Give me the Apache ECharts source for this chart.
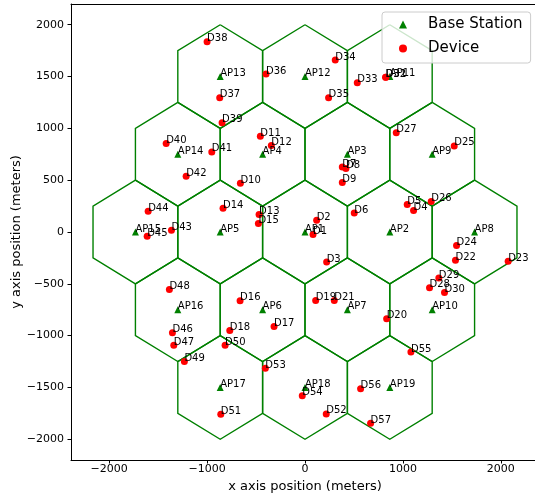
<!DOCTYPE html>
<html>
<head>
<meta charset="utf-8">
<script src="https://cdn.jsdelivr.net/npm/echarts@6/dist/echarts.min.js"></script>
<style>
html,body{margin:0;padding:0;background:#fff;}
#chart{width:535px;height:495px;}
</style>
</head>
<body>
<div id="chart"></div>
<script>
// Base stations (hexagonal grid centres)
const apNames = ['AP1','AP2','AP3','AP4','AP5','AP6','AP7','AP8','AP9','AP10','AP11','AP12','AP13','AP14','AP15','AP16','AP17','AP18','AP19'];
const apX = [0, 866, 433, -433, -866, -433, 433, 1732, 1299, 1299, 866, 0, -866, -1299, -1732, -1299, -866, 0, 866];
const apY = [0, 0, 750, 750, 0, -750, -750, 0, 750, -750, 1500, 1500, 1500, 750, 0, -750, -1500, -1500, -1500];
const cellRadius = 500;

// Devices
const devNames = ['D1','D2','D3','D4','D5','D6','D7','D8','D9','D10','D11','D12','D13','D14','D15','D16','D17','D18','D19','D20',
  'D21','D22','D23','D24','D25','D26','D27','D28','D29','D30','D31','D32','D33','D34','D35','D36','D37','D38','D39','D40',
  'D41','D42','D43','D44','D45','D46','D47','D48','D49','D50','D51','D52','D53','D54','D55','D56','D57'];
const devX = [82, 119, 221, 1109, 1044, 503, 381, 418, 381, -660, -456, -344, -469, -837, -476, -663, -316, -768, 109, 834,
  299, 1537, 2075, 1548, 1524, 1289, 932, 1272, 1367, 1425, 826, 823, 534, 309, 241, -398, -871, -1000, -847, -1418,
  -952, -1214, -1364, -1602, -1612, -1354, -1340, -1385, -1232, -816, -860, 217, -405, -28, 1082, 568, 670];
const devY = [-25, 113, -290, 207, 265, 184, 628, 612, 477, 470, 925, 835, 168, 229, 81, -663, -911, -950, -660, -837,
  -660, -273, -283, -131, 831, 294, 957, -537, -444, -583, 1493, 1492, 1440, 1659, 1295, 1524, 1295, 1836, 1053, 854,
  773, 538, 16, 200, -42, -972, -1092, -554, -1249, -1092, -1758, -1755, -1314, -1581, -1159, -1513, -1845];

// Axis ticks
const xTicks = [-2000, -1000, 0, 1000, 2000];
const yTicks = [-2000, -1500, -1000, -500, 0, 500, 1000, 1500, 2000];
const xRange = [-2390, 2390];
const yRange = [-2200, 2200];

const FONT = 'DejaVu Sans';
const minus = v => String(v).replace('-', '\u2212');

const hexData = apX.map((cx, i) => {
  const cy = apY[i];
  const coords = [];
  for (let k = 0; k <= 6; k++) {
    const a = Math.PI / 2 + k * Math.PI / 3;
    coords.push([cx + cellRadius * Math.cos(a), cy + cellRadius * Math.sin(a)]);
  }
  return { coords };
});

const labelCfg = {
  show: true,
  position: 'inside',
  align: 'left',
  verticalAlign: 'bottom',
  offset: [0, 2],
  formatter: p => p.data[2],
  fontSize: 10,
  fontFamily: FONT,
  color: '#000'
};

const chart = echarts.init(document.getElementById('chart'), null, { renderer: 'canvas' });
chart.setOption({
  animation: false,
  backgroundColor: '#fff',
  textStyle: { fontFamily: FONT },
  grid: { left: 71, top: 4, right: -4, bottom: 35, show: false,
          containLabel: false, outerBoundsMode: 'none' },
  legend: {
    data: ['Base Station', 'Device'],
    orient: 'vertical',
    left: 382, top: 12,
    padding: [5, 8, 7, 17],
    itemWidth: 8, itemHeight: 8, itemGap: 9,
    backgroundColor: 'rgba(255,255,255,0.8)',
    borderColor: '#cccccc', borderWidth: 1, borderRadius: 3,
    textStyle: { fontSize: 15, fontFamily: FONT, color: '#000', lineHeight: 14, padding: [0, 0, 0, 16] }
  },
  xAxis: [{
    type: 'value', min: xRange[0], max: xRange[1], position: 'bottom',
    name: 'x axis position (meters)', nameLocation: 'middle', nameGap: 19,
    nameTextStyle: { fontSize: 13, fontFamily: FONT, color: '#000' },
    splitLine: { show: false },
    axisLine: { show: true, onZero: false, lineStyle: { color: '#000', width: 1 } },
    axisTick: { show: true, customValues: xTicks, length: 3.5, lineStyle: { color: '#000' } },
    axisLabel: { customValues: xTicks, formatter: minus, fontSize: 11, fontFamily: FONT, color: '#000', margin: 4 }
  }, {
    type: 'value', min: xRange[0], max: xRange[1], position: 'top',
    axisLine: { show: true, onZero: false, lineStyle: { color: '#000', width: 1 } },
    axisTick: { show: false }, axisLabel: { show: false }, splitLine: { show: false }
  }],
  yAxis: {
    type: 'value', min: yRange[0], max: yRange[1],
    name: 'y axis position (meters)', nameLocation: 'middle', nameGap: 48, nameMoveOverlap: false,
    nameTextStyle: { fontSize: 13, fontFamily: FONT, color: '#000' },
    splitLine: { show: false },
    axisLine: { show: true, onZero: false, lineStyle: { color: '#000', width: 1 } },
    axisTick: { show: true, customValues: yTicks, length: 3.5, lineStyle: { color: '#000' } },
    axisLabel: { customValues: yTicks, formatter: minus, fontSize: 11, fontFamily: FONT, color: '#000', margin: 7 }
  },
  series: [
    {
      type: 'lines', name: 'cells', coordinateSystem: 'cartesian2d', polyline: true,
      data: hexData, silent: true,
      lineStyle: { color: '#008000', width: 1.4, opacity: 1 }
    },
    {
      type: 'scatter', name: 'Base Station', symbol: 'triangle', symbolSize: 7,
      itemStyle: { color: '#008000', opacity: 1 },
      data: apX.map((x, i) => [x, apY[i], apNames[i]]),
      label: labelCfg, emphasis: { disabled: true }
    },
    {
      type: 'scatter', name: 'Device', symbol: 'circle', symbolSize: 7,
      itemStyle: { color: '#ff0000', opacity: 1 },
      data: devX.map((x, i) => [x, devY[i], devNames[i]]),
      label: labelCfg, emphasis: { disabled: true }
    }
  ]
});
</script>
</body>
</html>
